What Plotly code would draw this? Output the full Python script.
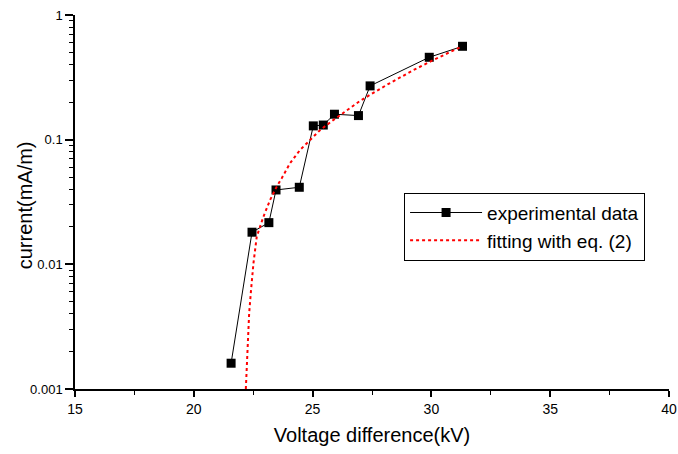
import plotly.graph_objects as go

exp_voltage = [21.57, 22.45, 23.16, 23.46, 24.44, 25.03, 25.45, 25.92, 26.93, 27.42, 29.91, 31.31]
exp_current = [0.00161, 0.0181, 0.0216, 0.0395, 0.0415, 0.129, 0.131, 0.160, 0.156, 0.270, 0.458, 0.561]

# fitted curve
fit_voltage = [22.19, 22.26, 22.33, 22.41, 22.51, 22.65, 22.93, 23.21, 23.49, 23.70, 24.05,
               24.47, 24.89, 25.32, 25.88, 26.44, 27.0, 28.12, 29.25, 30.09, 31.2]
fit_current = [0.001, 0.00219, 0.00405, 0.00624, 0.0102, 0.0167, 0.0241, 0.0328, 0.042, 0.049, 0.0647,
               0.0826, 0.0995, 0.1197, 0.144, 0.173, 0.205, 0.275, 0.362, 0.436, 0.55]

y_tickvals = [0.001, 0.01, 0.1, 1]
y_ticktext = ["0.001", "0.01", "0.1", "1"]

fig = go.Figure()
fig.add_trace(go.Scatter(
    x=exp_voltage, y=exp_current, mode="lines+markers", name="experimental data",
    line=dict(color="black", width=1),
    marker=dict(symbol="square", size=9, color="black"),
))
fig.add_trace(go.Scatter(
    x=fit_voltage, y=fit_current, mode="lines", name="fitting with eq. (2)",
    line=dict(color="red", width=2, dash="dot"),
))

font_family = "Arial, Liberation Sans, sans-serif"
fig.update_layout(
    width=678, height=454,
    margin=dict(l=75, r=9, t=15, b=65, autoexpand=False),
    paper_bgcolor="white", plot_bgcolor="white",
    font=dict(family=font_family, color="black", size=14),
    showlegend=True,
    legend=dict(
        x=0.554, y=0.525, xanchor="left", yanchor="top",
        bordercolor="black", borderwidth=1, bgcolor="white",
        font=dict(size=19, family=font_family), itemwidth=72,
        tracegroupgap=0,
    ),
    xaxis=dict(
        range=[15, 40], dtick=5, tick0=15, automargin=False,
        ticklabeloverflow="allow",
        showline=True, linecolor="black", linewidth=1.5,
        ticks="outside", ticklen=6, tickwidth=1.5, tickcolor="black",
        minor=dict(ticks="outside", ticklen=4, dtick=2.5, tickcolor="black", tickwidth=1),
        showgrid=False, zeroline=False,
        tickfont=dict(size=14),
        title=dict(text="Voltage difference(kV)", font=dict(size=20), standoff=12),
    ),
    yaxis=dict(
        type="log", range=[-3, 0], automargin=False,
        ticklabeloverflow="allow",
        tickvals=y_tickvals, ticktext=y_ticktext,
        showline=True, linecolor="black", linewidth=1.5,
        ticks="outside", ticklen=8, tickwidth=1.5, tickcolor="black",
        minor=dict(ticks="outside", ticklen=4, dtick="D1", tickcolor="black", tickwidth=1),
        showgrid=False, zeroline=False,
        tickfont=dict(size=13),
    ),
    annotations=[dict(
        text="current(mA/m)", textangle=-90, showarrow=False,
        xref="paper", yref="paper", x=-0.085, y=0.49,
        xanchor="center", yanchor="middle",
        font=dict(size=20, family=font_family, color="black"),
    )],
)

fig.write_html("out.html", config={"displayModeBar": False},
               post_script="document.body.style.margin='0';")
